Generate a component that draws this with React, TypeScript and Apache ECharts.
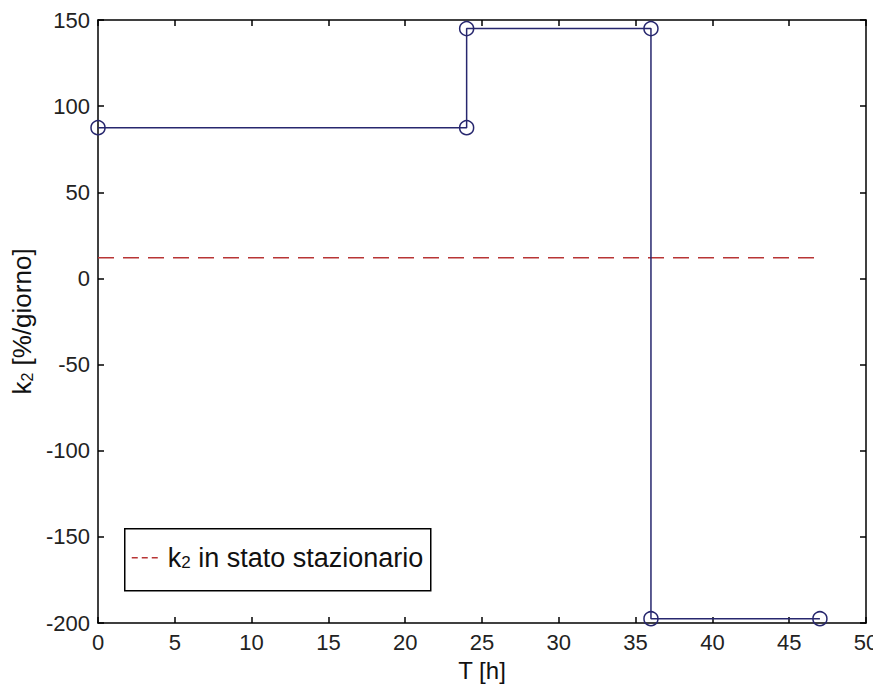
import React, { useEffect, useRef } from "react";
import * as echarts from "echarts";

const stepX = [0, 24, 24, 36, 36, 47];
const stepY = [87.5, 87.5, 145, 145, -197.5, -197.5];
const refX = [0, 47];
const refY = [12, 12];
const xTicks = [0, 5, 10, 15, 20, 25, 30, 35, 40, 45, 50];
const yTicks = [-200, -150, -100, -50, 0, 50, 100, 150];

const FONT = "'Liberation Sans', Arial, sans-serif";

export default function App() {
  const ref = useRef<HTMLDivElement>(null);
  useEffect(() => {
    if (!ref.current) return;
    const chart = echarts.init(ref.current, undefined, { renderer: "svg" });
    const navy = "#27276e";
    const axisCommon = {
      axisLine: { show: true, onZero: false, lineStyle: { color: "#000", width: 1.5 } },
      axisTick: { show: true, inside: true, length: 6, lineStyle: { color: "#000", width: 1.5 } },
      splitLine: { show: false },
    };
    chart.setOption({
      animation: false,
      backgroundColor: "#fff",
      textStyle: { fontFamily: FONT },
      grid: { left: 98, right: 15, top: 20, bottom: 71, show: false, containLabel: false, outerBoundsMode: "none" },
      xAxis: [
        {
          type: "value",
          min: xTicks[0],
          max: xTicks[xTicks.length - 1],
          interval: 5,
          position: "bottom",
          name: "T [h]",
          nameLocation: "middle",
          nameGap: 35,
          nameTextStyle: { fontSize: 24, color: "#111", fontFamily: FONT },
          axisLabel: { fontSize: 22, color: "#222", margin: 8, fontFamily: FONT },
          ...axisCommon,
        },
        {
          type: "value",
          min: xTicks[0],
          max: xTicks[xTicks.length - 1],
          interval: 5,
          position: "top",
          axisLabel: { show: false },
          ...axisCommon,
        },
      ],
      yAxis: [
        {
          type: "value",
          min: yTicks[0],
          max: yTicks[yTicks.length - 1],
          interval: 50,
          position: "left",
          name: "{a|k}{s|2}{a| [%/giorno]}",
          nameLocation: "middle",
          nameGap: 50,
          nameRotate: 90,
          nameTextStyle: {
            color: "#111",
            fontFamily: FONT,
            rich: {
              a: { fontSize: 26, color: "#111", fontFamily: FONT, verticalAlign: "bottom" },
              s: { fontSize: 16, color: "#111", fontFamily: FONT, verticalAlign: "bottom" },
            },
          },
          axisLabel: { fontSize: 22, color: "#222", margin: 8, fontFamily: FONT },
          ...axisCommon,
        },
        {
          type: "value",
          min: yTicks[0],
          max: yTicks[yTicks.length - 1],
          interval: 50,
          position: "right",
          axisLabel: { show: false },
          ...axisCommon,
        },
      ],
      series: [
        {
          type: "line",
          data: stepX.map((x, i) => [x, stepY[i]]),
          symbol: "circle",
          symbolSize: 14,
          lineStyle: { color: navy, width: 1.5 },
          itemStyle: { color: "rgba(0,0,0,0)", borderColor: navy, borderWidth: 1.5 },
          z: 3,
        },
        {
          type: "line",
          data: refX.map((x, i) => [x, refY[i]]),
          symbol: "none",
          lineStyle: { color: "#b83535", width: 1.5, type: [16, 9] },
          z: 2,
        },
      ],
      graphic: [
        {
          type: "group",
          left: 124,
          top: 528,
          children: [
            {
              type: "rect",
              shape: { x: 0, y: 0, width: 306, height: 62 },
              style: { fill: "#fff", stroke: "#000", lineWidth: 1.5 },
            },
            {
              type: "line",
              shape: { x1: 7, y1: 29, x2: 34, y2: 29 },
              style: { stroke: "#b83535", lineWidth: 1.5, lineDash: [6, 4] },
            },
            {
              type: "text",
              x: 43,
              y: 29,
              style: {
                text: "{a|k}{s|2}{a| in stato stazionario}",
                verticalAlign: "middle",
                rich: {
                  a: { fontSize: 27, fill: "#111", fontFamily: FONT, verticalAlign: "bottom" },
                  s: { fontSize: 17, fill: "#111", fontFamily: FONT, verticalAlign: "bottom" },
                },
              },
            },
          ],
        },
      ],
    });
    return () => chart.dispose();
  }, []);
  return <div ref={ref} style={{ width: 881, height: 694, margin: -8 }} />;
}
